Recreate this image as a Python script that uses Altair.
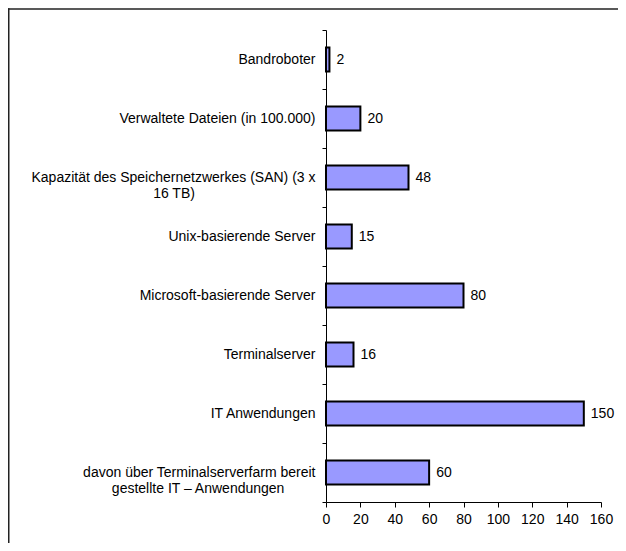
import altair as alt
import pandas as pd

categories = [
    "Bandroboter",
    "Verwaltete Dateien (in 100.000)",
    "Kapazität des Speichernetzwerkes (SAN) (3 x\n16 TB)",
    "Unix-basierende Server",
    "Microsoft-basierende Server",
    "Terminalserver",
    "IT Anwendungen",
    "davon über Terminalserverfarm bereit\ngestellte IT – Anwendungen",
]
values = [2, 20, 48, 15, 80, 16, 150, 60]
x_ticks = [0, 20, 40, 60, 80, 100, 120, 140, 160]

FONT = "Liberation Sans"
FS = 14

# approximate Arial advance widths (em) to centre multi-line labels
W = {" ": .278, "\u00a0": .278, "i": .222, "l": .222, "t": .278, "f": .278, "r": .333,
     "(": .333, ")": .333, "I": .278, "m": .833, "w": .722, "s": .5, "z": .5, "c": .5,
     "k": .5, "v": .5, "x": .5, "K": .667, "S": .667, "A": .667, "B": .667, "N": .722,
     "T": .611, "–": .556}


def tw(s):
    return sum(W.get(ch, .556) for ch in s)


def centred(label):
    lines = label.split("\n")
    m = max(tw(l) for l in lines)
    out = []
    for l in lines:
        n = int(round((m - tw(l)) / 2 / .278))
        out.append(l + "\u00a0" * n + ("\u200b" if n else ""))
    return "\n".join(out)


disp = [centred(c) for c in categories]
df = pd.DataFrame({"cat": categories, "disp": disp, "val": values})

y = alt.Y(
    "disp:N", sort=disp, title=None,
    scale=alt.Scale(paddingInner=0, paddingOuter=0),
    axis=alt.Axis(
        tickBand="extent", tickSize=4, tickColor="black", domainColor="black",
        labelFont=FONT, labelFontSize=FS, labelColor="black", labelPadding=7,
        labelLimit=400, labelLineHeight=16,
        labelExpr="split(datum.label, '\\n')",
    ),
)
x = alt.X(
    "val:Q", title=None,
    scale=alt.Scale(domain=[0, 160], nice=False),
    axis=alt.Axis(
        values=x_ticks, grid=False, tickSize=5, tickColor="black", domainColor="black",
        labelFont=FONT, labelFontSize=FS, labelColor="black", labelPadding=5,
        labelOverlap=False, labelFlush=False,
    ),
)

base = alt.Chart(df)
bars = base.mark_bar(height=24, fill="#9999ff", stroke="black", strokeWidth=2).encode(x=x, y=y)
texts = base.mark_text(align="left", baseline="middle", dx=7, font=FONT, fontSize=FS,
                       color="black").encode(x=x, y=y, text="val:Q")

one = alt.Chart(pd.DataFrame({"a": [0]}))
frame_left = one.mark_rule(stroke="#222222", strokeWidth=1.5).encode(
    x=alt.value(-317.25), y=alt.value(-21.75), y2=alt.value(520)
)
frame_top = one.mark_rule(stroke="#222222", strokeWidth=1.5).encode(
    x=alt.value(-318), x2=alt.value(300), y=alt.value(-21)
)

chart = alt.layer(bars, texts, frame_left, frame_top).properties(
    width=275, height=472,
    background="white",
    autosize=alt.AutoSizeParams(type="none"),
    padding={"left": 318, "top": 22, "right": 17, "bottom": 41},
).configure_view(stroke=None)

chart.save("out.html", embed_options={"renderer": "svg", "actions": False})
